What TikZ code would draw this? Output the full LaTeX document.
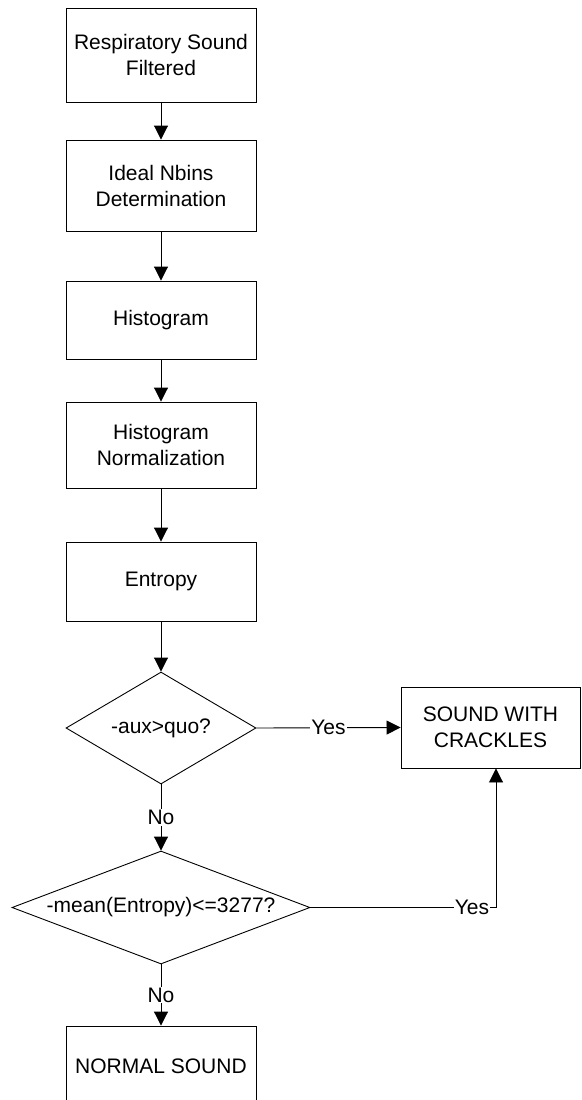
\documentclass[tikz,border=0pt]{standalone}
\usepackage{fontspec}
\setmainfont{Liberation Sans}
\usetikzlibrary{arrows.meta,shapes.geometric}
\begin{document}
\begin{tikzpicture}[x=1pt,y=-1pt,
  every node/.style={font=\fontsize{21}{26}\selectfont},
  box/.style={draw, line width=0.9pt, rectangle, minimum width=190pt, align=center, inner sep=0pt},
  dec/.style={draw, line width=0.9pt, diamond, aspect=1, inner sep=0pt},
  conn/.style={line width=0.9pt, -{Triangle[width=14pt,length=14pt]}},
  lbl/.style={fill=white, inner sep=1pt}]
\useasboundingbox (0,0) rectangle (581,1100);
\node[box, minimum height=94pt] (b1) at (161,55) {Respiratory Sound\\Filtered};
\node[box, minimum height=91pt] (b2) at (161,185.5) {Ideal Nbins\\Determination};
\node[box, minimum height=78pt] (b3) at (161,320) {Histogram};
\node[box, minimum height=86pt] (b4) at (161,445) {Histogram\\Normalization};
\node[box, minimum height=79pt] (b5) at (161,581.5) {Entropy};
\node[dec, minimum width=190pt, minimum height=112pt] (d1) at (161,728) {};
\node (t1) at (161,728) {-aux>quo?};
\node[dec, minimum width=298pt, minimum height=113pt] (d2) at (161,907.5) {};
\node (t2) at (161,907.5) {-mean(Entropy)<=3277?};
\node[box, minimum width=179pt, minimum height=81pt] (c) at (490.5,727.5) {SOUND WITH\\CRACKLES};
\begin{scope}
\clip (0,0) rectangle (581,1100);
\node[box, minimum height=80pt] (n) at (161,1066) {NORMAL SOUND};
\end{scope}
\coordinate (turn) at (496,907.5);
\draw[conn] (b1) -- (b2);
\draw[conn] (b2) -- (b3);
\draw[conn] (b3) -- (b4);
\draw[conn] (b4) -- (b5);
\draw[conn] (b5) -- (d1);
\draw[conn] (d1) -- node[lbl] {No} (d2);
\draw[conn] (d2) -- node[lbl] {No} (n);
\draw[conn] (d1.east) -- node[lbl] {Yes} (c.west);
\draw[conn] (d2.east) -- node[lbl, pos=0.87] {Yes} (turn) -- (turn |- c.south);
\end{tikzpicture}
\end{document}
